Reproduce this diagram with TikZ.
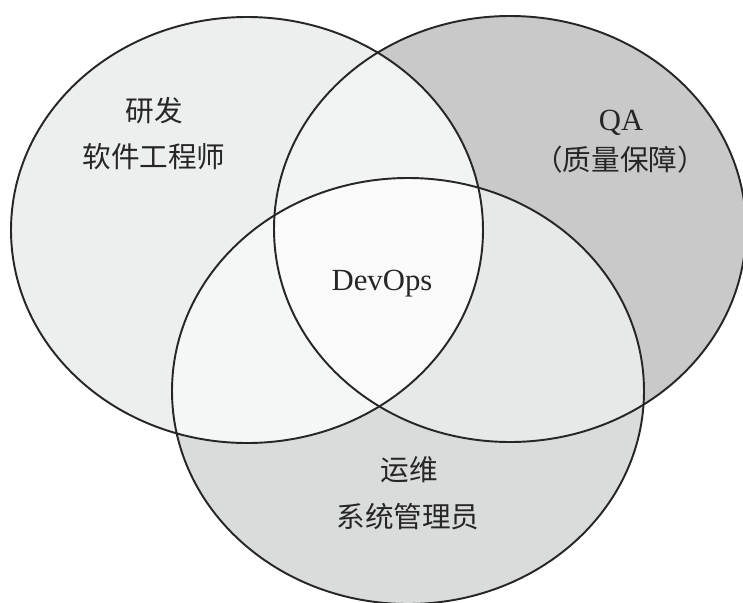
\documentclass[tikz,border=0pt]{standalone}
\usepackage{fontspec}
\setmainfont{Liberation Serif}
\newfontfamily\cjk{Noto Sans CJK SC}
\usepackage{xcolor}
\usepackage{tikz}
\definecolor{bg}{HTML}{FFFFFF}
\definecolor{edge}{HTML}{262626}
\definecolor{text}{HTML}{262626}
\definecolor{onlyL}{HTML}{EDEEEE}
\definecolor{onlyR}{HTML}{C9C9C9}
\definecolor{onlyB}{HTML}{DADBDB}
\definecolor{meetLR}{HTML}{F2F3F3}
\definecolor{meetLB}{HTML}{F5F6F6}
\definecolor{meetRB}{HTML}{E7E8E8}
\definecolor{meetAll}{HTML}{FAFAFA}
\tikzset{
  setellipse/.style={draw=edge, line width=1.1pt},
  shadeL/.style={fill=onlyL, draw=none},
  shadeR/.style={fill=onlyR, draw=none},
  shadeB/.style={fill=onlyB, draw=none},
  shadeLR/.style={fill=meetLR, draw=none},
  shadeLB/.style={fill=meetLB, draw=none},
  shadeRB/.style={fill=meetRB, draw=none},
  shadeAll/.style={fill=meetAll, draw=none},
  lab/.style={text=text, inner sep=0pt, font=\fontsize{17.5}{17.5}\selectfont},
  cjklab/.style={text=text, inner sep=0pt, font=\cjk\fontsize{16.3}{16.3}\selectfont}
}

\begin{document}
\begin{tikzpicture}[x=0.02cm, y=-0.02cm]
  \useasboundingbox[fill=bg] (0,0) rectangle (743,602);

  % dev, qa and ops ellipses, same size
  \def\rx{236}
  \def\ry{213}
  \coordinate (L) at (247,230);
  \coordinate (R) at (510,229);
  \coordinate (B) at (408,391);
  \def\ellL{(L) ellipse [x radius=\rx, y radius=\ry]}
  \def\ellR{(R) ellipse [x radius=\rx, y radius=\ry]}
  \def\ellB{(B) ellipse [x radius=\rx, y radius=\ry]}

  % Shade: single sets
  \fill[shadeL] \ellL;
  \fill[shadeR] \ellR;
  \fill[shadeB] \ellB;

  % Shade: pairwise overlaps
  \begin{scope}
    \clip \ellL;
    \fill[shadeLR] \ellR;
    \fill[shadeLB] \ellB;
  \end{scope}
  \begin{scope}
    \clip \ellR;
    \fill[shadeRB] \ellB;
  \end{scope}

  % Shade: L, R and B together
  \begin{scope}
    \clip \ellL;
    \clip \ellR;
    \fill[shadeAll] \ellB;
  \end{scope}

  \draw[setellipse] \ellL;
  \draw[setellipse] \ellR;
  \draw[setellipse] \ellB;

  \node[cjklab] (dev) at (154,111) {研发};
  \node[cjklab] (devrole) at (154,157) {软件工程师};
  \node[lab] (qa) at (621,123) {QA};
  \node[cjklab] (qarole) at (620,160) {（质量保障）};
  \node[lab] (devops) at (382,284) {DevOps};
  \node[cjklab] (ops) at (409,470) {运维};
  \node[cjklab] (opsrole) at (408,517) {系统管理员};
\end{tikzpicture}
\end{document}
